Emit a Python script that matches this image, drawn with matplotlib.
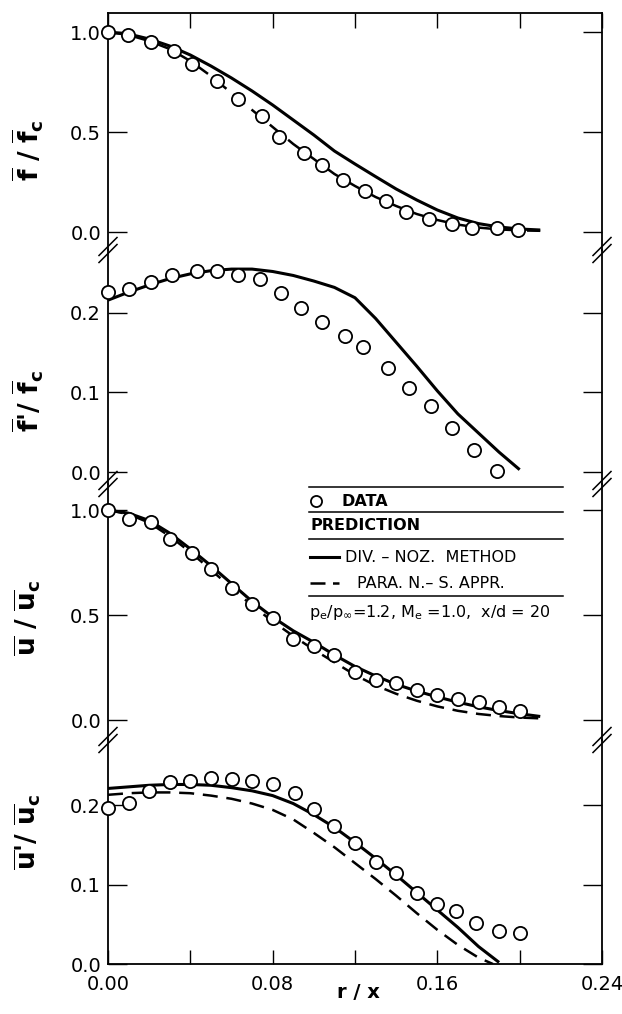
import matplotlib
matplotlib.use("Agg")
import matplotlib.pyplot as plt
from matplotlib.lines import Line2D
import numpy as np

plt.rcParams['font.family'] = ['DejaVu Sans']
plt.rcParams['mathtext.fontset'] = 'dejavusans'
plt.rcParams['mathtext.default'] = 'regular'

# ---------------- data ----------------
# panel 1: f / fc
r_f_data = [0.0, 0.0097, 0.021, 0.032, 0.041, 0.053, 0.063, 0.075, 0.083, 0.095,
            0.104, 0.114, 0.125, 0.135, 0.145, 0.156, 0.167, 0.177, 0.189, 0.199]
f_data = [1.0, 0.985, 0.95, 0.905, 0.84, 0.755, 0.665, 0.58, 0.475, 0.395,
          0.335, 0.26, 0.205, 0.155, 0.10, 0.065, 0.04, 0.02, 0.02, 0.01]
r_f_curve = [0.0, 0.01, 0.02, 0.03, 0.04, 0.05, 0.06, 0.07, 0.08, 0.09, 0.10,
             0.11, 0.12, 0.13, 0.14, 0.15, 0.16, 0.17, 0.18, 0.19, 0.20, 0.21]
f_solid = [1.0, 0.99, 0.965, 0.93, 0.885, 0.83, 0.77, 0.705, 0.635, 0.56, 0.485,
           0.405, 0.34, 0.277, 0.215, 0.16, 0.11, 0.07, 0.042, 0.025, 0.015, 0.01]
f_dashed = [1.0, 0.985, 0.955, 0.915, 0.855, 0.78, 0.695, 0.61, 0.525, 0.44, 0.365,
            0.29, 0.23, 0.175, 0.13, 0.09, 0.06, 0.037, 0.022, 0.013, 0.008, 0.006]

# panel 2: f' / fc
r_fp_data = [0.0, 0.010, 0.021, 0.031, 0.043, 0.053, 0.063, 0.074, 0.084, 0.094,
             0.104, 0.115, 0.124, 0.136, 0.146, 0.157, 0.167, 0.178, 0.189]
fp_data = [0.226, 0.230, 0.239, 0.247, 0.252, 0.252, 0.248, 0.242, 0.225, 0.206,
           0.189, 0.171, 0.157, 0.131, 0.106, 0.083, 0.055, 0.028, 0.001]
r_fp_curve = [0.0, 0.01, 0.02, 0.03, 0.04, 0.05, 0.06, 0.07, 0.08, 0.09, 0.10,
              0.11, 0.12, 0.13, 0.14, 0.15, 0.16, 0.17, 0.18, 0.19, 0.20]
fp_solid = [0.216, 0.226, 0.235, 0.243, 0.249, 0.253, 0.255, 0.255, 0.252, 0.247, 0.240,
            0.232, 0.219, 0.193, 0.163, 0.133, 0.102, 0.073, 0.049, 0.025, 0.003]

# panel 3: u / uc
r_u_data = [0.0, 0.010, 0.021, 0.030, 0.041, 0.050, 0.060, 0.070, 0.080, 0.090, 0.100,
            0.110, 0.120, 0.130, 0.140, 0.150, 0.160, 0.170, 0.180, 0.190, 0.200]
u_data = [1.0, 0.957, 0.943, 0.862, 0.795, 0.719, 0.628, 0.552, 0.486, 0.386, 0.352,
          0.31, 0.229, 0.19, 0.176, 0.143, 0.119, 0.10, 0.086, 0.062, 0.043]
r_u_curve = [0.0, 0.01, 0.02, 0.03, 0.04, 0.05, 0.06, 0.07, 0.08, 0.09, 0.10,
             0.11, 0.12, 0.13, 0.14, 0.15, 0.16, 0.17, 0.18, 0.19, 0.20, 0.21]
u_solid = [1.0, 0.985, 0.95, 0.89, 0.815, 0.735, 0.65, 0.565, 0.49, 0.425, 0.37,
           0.31, 0.255, 0.21, 0.17, 0.138, 0.11, 0.085, 0.063, 0.045, 0.03, 0.017]
u_dashed = [1.0, 0.98, 0.94, 0.875, 0.80, 0.715, 0.63, 0.545, 0.47, 0.40, 0.335,
            0.275, 0.215, 0.165, 0.125, 0.092, 0.065, 0.044, 0.029, 0.019, 0.012, 0.008]

# panel 4: u' / uc
r_up_data = [0.0, 0.010, 0.020, 0.030, 0.040, 0.050, 0.060, 0.070, 0.080, 0.091, 0.100,
             0.110, 0.120, 0.130, 0.140, 0.150, 0.160, 0.169, 0.179, 0.190, 0.200]
up_data = [0.197, 0.203, 0.218, 0.229, 0.231, 0.234, 0.233, 0.230, 0.226, 0.215, 0.195,
           0.174, 0.152, 0.128, 0.114, 0.089, 0.075, 0.067, 0.052, 0.042, 0.039]
r_up_solid = [0.0, 0.01, 0.02, 0.03, 0.04, 0.05, 0.06, 0.07, 0.08, 0.09, 0.10,
              0.11, 0.12, 0.13, 0.14, 0.15, 0.16, 0.17, 0.18, 0.19]
up_solid = [0.221, 0.223, 0.225, 0.226, 0.226, 0.225, 0.222, 0.218, 0.212, 0.202, 0.188,
            0.172, 0.153, 0.133, 0.112, 0.09, 0.068, 0.046, 0.022, 0.002]
r_up_dashed = [0.0, 0.01, 0.02, 0.03, 0.04, 0.05, 0.06, 0.07, 0.08, 0.09, 0.10,
               0.11, 0.12, 0.13, 0.14, 0.15, 0.16, 0.17, 0.18, 0.187]
up_dashed = [0.213, 0.215, 0.216, 0.216, 0.215, 0.212, 0.208, 0.202, 0.194, 0.182, 0.165,
             0.147, 0.127, 0.107, 0.086, 0.064, 0.043, 0.024, 0.008, 0.0]

x_ticks = [0.0, 0.04, 0.08, 0.12, 0.16, 0.20, 0.24]
x_ticklabels = ['0.00', '', '0.08', '', '0.16', '', '0.24']

ylabels = [r'$\overline{f}\ /\ \overline{f}_c$',
           r"$\overline{f}$'/ $\overline{f}_c$",
           r'$\overline{u}\ /\ \overline{u}_c$',
           r"$\overline{u}$'/ $\overline{u}_c$"]
yticks = [[0.0, 0.5, 1.0], [0.0, 0.1, 0.2], [0.0, 0.5, 1.0], [0.0, 0.1, 0.2]]
ylims = [(-0.09, 1.095), (-0.015, 0.279), (-0.095, 1.124), (0.0, 0.282)]

# ---------------- layout ----------------
W, H = 622, 1014
fig = plt.figure(figsize=(W / 100, H / 100), dpi=100)
XL, XR = 108, 602
bounds = [13, 250, 484, 740, 964]

def fx(x):
    return x / W

def fy(y):
    return 1 - y / H

axes = []
for i in range(4):
    ax = fig.add_axes([fx(XL), fy(bounds[i + 1]), fx(XR - XL), (bounds[i + 1] - bounds[i]) / H])
    axes.append(ax)

lw_sp = 1.3
for i, ax in enumerate(axes):
    ax.set_xlim(0, 0.24)
    ax.set_ylim(*ylims[i])
    for s in ['left', 'right']:
        ax.spines[s].set_linewidth(lw_sp)
    ax.spines['top'].set_visible(i == 0)
    ax.spines['bottom'].set_visible(i == 3)
    ax.spines['top'].set_linewidth(lw_sp)
    ax.spines['bottom'].set_linewidth(lw_sp)
    ax.set_yticks(yticks[i])
    ax.set_yticklabels(['%.1f' % v for v in yticks[i]])
    ax.tick_params(axis='y', direction='in', length=14, width=1.0, left=True, right=True,
                   labelsize=14, pad=5)
    ax.set_xticks(x_ticks)
    if i == 3:
        ax.set_xticklabels(x_ticklabels)
        ax.tick_params(axis='x', direction='in', length=10, width=1.0, top=False, bottom=True,
                       labelsize=14, pad=8)
    elif i == 0:
        ax.tick_params(axis='x', direction='in', length=11, width=1.0, top=True, bottom=False,
                       labelbottom=False)
    else:
        ax.tick_params(axis='x', bottom=False, top=False, labelbottom=False)
    ax.patch.set_alpha(0)

mk = dict(marker='o', ms=9.5, mfc='white', mec='black', mew=1.3, ls='none', clip_on=False, zorder=5)
solid = dict(color='black', lw=2.2, solid_capstyle='butt', zorder=3)
dashed = dict(color='black', lw=1.8, ls=(0, (6, 3.5)), zorder=3)

axes[0].plot(r_f_curve, f_solid, **solid)
axes[0].plot(r_f_curve, f_dashed, **dashed)
axes[0].plot(r_f_data, f_data, **mk)

axes[1].plot(r_fp_curve, fp_solid, **solid)
axes[1].plot(r_fp_data, fp_data, **mk)

axes[2].plot(r_u_curve, u_solid, **solid)
axes[2].plot(r_u_curve, u_dashed, **dashed)
axes[2].plot(r_u_data, u_data, **mk)

axes[3].plot(r_up_solid, up_solid, **solid)
axes[3].plot(r_up_dashed, up_dashed, **dashed)
axes[3].plot(r_up_data, up_data, **mk)

# y labels
label_y = [150, 401, 618, 832]
for lab, yc in zip(ylabels, label_y):
    fig.text(fx(28), fy(yc), lab, rotation=90, ha='center', va='center', fontsize=19,
             fontweight='bold')

fig.text(fx(358), fy(993), 'r / x', ha='center', va='center', fontsize=14, fontweight='bold')

# axis break marks
for yb in bounds[1:4]:
    for xb in (XL, XR):
        for off in (-3.5, 3.5):
            fig.add_artist(Line2D([fx(xb - 9), fx(xb + 9)], [fy(yb + 9 + off), fy(yb - 9 + off)],
                                  color='black', lw=1.1))

# legend block
LX0, LX1 = 309, 563
for yl in (487, 512, 539, 596):
    fig.add_artist(Line2D([fx(LX0), fx(LX1)], [fy(yl), fy(yl)], color='black', lw=1.1))
fig.add_artist(Line2D([fx(316)], [fy(501)], marker='o', ms=8, mfc='white', mec='black', mew=1.3))
fs = 11.5
fig.text(fx(342), fy(501), 'DATA', ha='left', va='center', fontsize=fs, fontweight='bold')
fig.text(fx(310), fy(526), 'PREDICTION', ha='left', va='center', fontsize=fs, fontweight='semibold')
fig.add_artist(Line2D([fx(310), fx(339)], [fy(557), fy(557)], color='black', lw=2.2))
fig.text(fx(345), fy(557), 'DIV. \u2013 NOZ.  METHOD', ha='left', va='center', fontsize=fs)
fig.add_artist(Line2D([fx(310), fx(339)], [fy(583), fy(583)], color='black', lw=1.8,
                      ls=(0, (6, 3))))
fig.text(fx(357), fy(583), 'PARA. N.\u2013 S. APPR.', ha='left', va='center', fontsize=fs)
fig.text(fx(309), fy(612), r'$p_e/p_\infty$=1.2, $M_e$ =1.0,  x/d = 20', ha='left',
         va='center', fontsize=fs)

fig.savefig('out.png', dpi=100)
